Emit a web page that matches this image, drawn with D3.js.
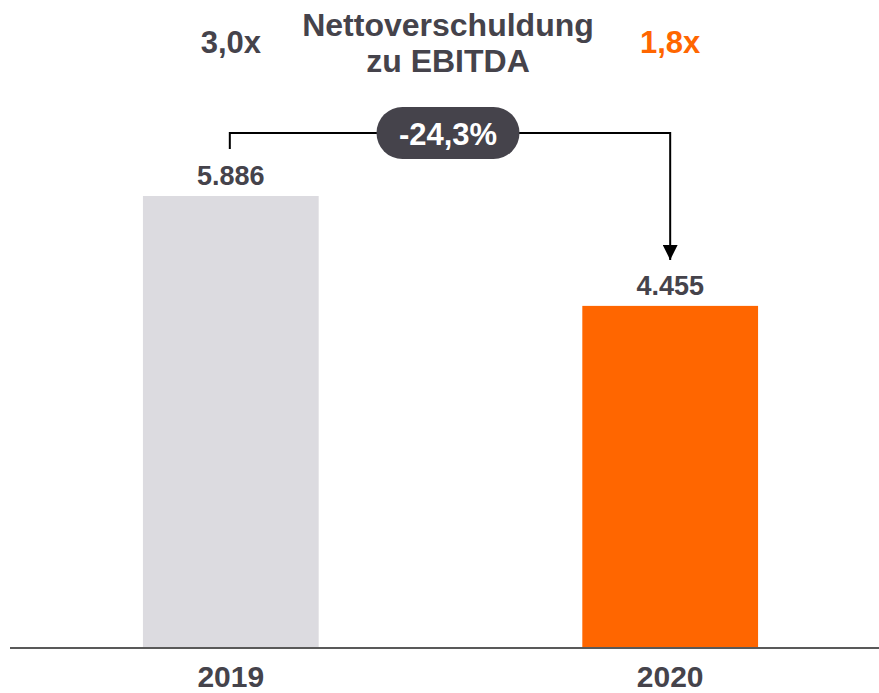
<!DOCTYPE html>
<html>
<head>
<meta charset="utf-8">
<script src="https://cdn.jsdelivr.net/npm/d3@7"></script>
<style>
  html, body { margin: 0; padding: 0; background: #ffffff; }
  svg { display: block; }
  text { font-family: "Liberation Sans", Arial, sans-serif; font-weight: bold; }
</style>
</head>
<body>
<svg id="chart" width="879" height="693"></svg>
<script>
// ---- data ----
const categories = ["2019", "2020"];
const values = [5886, 4455];
const valueLabels = ["5.886", "4.455"];
const ratioLabels = ["3,0x", "1,8x"];
const titleLines = ["Nettoverschuldung", "zu EBITDA"];
const changeLabel = "-24,3%";

// ---- styles ----
const barColors = ["#dcdbe0", "#ff6600"];
const ratioColors = ["#45434b", "#ff6600"];
const textColor = "#45434b";

const svg = d3.select("#chart");

const x = d3.scaleBand()
  .domain(categories)
  .range([99, 802])
  .paddingInner(0.6)
  .paddingOuter(0.1);

const y = d3.scaleLinear()
  .domain([0, 5886])
  .range([648, 196]);

// bars
svg.selectAll("rect.bar")
  .data(values)
  .join("rect")
  .attr("class", "bar")
  .attr("x", (d, i) => x(categories[i]))
  .attr("width", x.bandwidth())
  .attr("y", d => y(d))
  .attr("height", d => y(0) - y(d))
  .attr("fill", (d, i) => barColors[i]);

// baseline axis
const axis = d3.axisBottom(x).tickSize(0).tickPadding(0);
const gAxis = svg.append("g").attr("transform", `translate(0,${y(0)})`).call(axis);
gAxis.select(".domain").remove();
gAxis.selectAll("text")
  .attr("y", 39)
  .attr("dy", 0)
  .attr("font-size", 30)
  .attr("font-family", "Liberation Sans, Arial, sans-serif")
  .attr("font-weight", "bold")
  .attr("fill", textColor);
svg.append("line")
  .attr("x1", 10).attr("x2", 879)
  .attr("y1", y(0)).attr("y2", y(0))
  .attr("stroke", "#595959")
  .attr("stroke-width", 2);

// value labels
svg.selectAll("text.val")
  .data(values)
  .join("text")
  .attr("class", "val")
  .attr("x", (d, i) => x(categories[i]) + x.bandwidth() / 2)
  .attr("y", d => y(d) - 11)
  .attr("text-anchor", "middle")
  .attr("font-size", 27)
  .attr("fill", textColor)
  .text((d, i) => valueLabels[i]);

// ratio labels
svg.selectAll("text.ratio")
  .data(ratioLabels)
  .join("text")
  .attr("class", "ratio")
  .attr("x", (d, i) => x(categories[i]) + x.bandwidth() / 2)
  .attr("y", 53)
  .attr("text-anchor", "middle")
  .attr("font-size", 31)
  .attr("fill", (d, i) => ratioColors[i])
  .text(d => d);

// title
svg.selectAll("text.title")
  .data(titleLines)
  .join("text")
  .attr("class", "title")
  .attr("x", 448)
  .attr("y", (d, i) => 36 + i * 36)
  .attr("text-anchor", "middle")
  .attr("font-size", 32)
  .attr("fill", textColor)
  .text(d => d);

// bracket + arrow
const cx0 = x(categories[0]) + x.bandwidth() / 2 - 1;
const cx1 = x(categories[1]) + x.bandwidth() / 2;
const bracketY = 133;
svg.append("defs").append("marker")
  .attr("id", "arrow")
  .attr("viewBox", "0 0 10 10")
  .attr("refX", 10).attr("refY", 5)
  .attr("markerWidth", 7.5).attr("markerHeight", 7.5)
  .attr("markerUnits", "strokeWidth")
  .attr("orient", "auto")
  .append("path")
  .attr("d", "M0,0 L10,5 L0,10 Z")
  .attr("fill", "#000");

svg.append("path")
  .attr("d", `M${cx0},${y(values[0]) - 47} V${bracketY} H${cx1} V${y(values[1]) - 46}`)
  .attr("fill", "none")
  .attr("stroke", "#000")
  .attr("stroke-width", 2)
  .attr("marker-end", "url(#arrow)");

// pill
const pillW = 143, pillH = 52, pillCx = 448;
svg.append("rect")
  .attr("x", pillCx - pillW / 2)
  .attr("y", bracketY - pillH / 2)
  .attr("width", pillW)
  .attr("height", pillH)
  .attr("rx", pillH / 2)
  .attr("fill", "#45434b");
svg.append("text")
  .attr("x", pillCx)
  .attr("y", bracketY + 12)
  .attr("text-anchor", "middle")
  .attr("font-size", 31)
  .attr("fill", "#ffffff")
  .text(changeLabel);
</script>
</body>
</html>
